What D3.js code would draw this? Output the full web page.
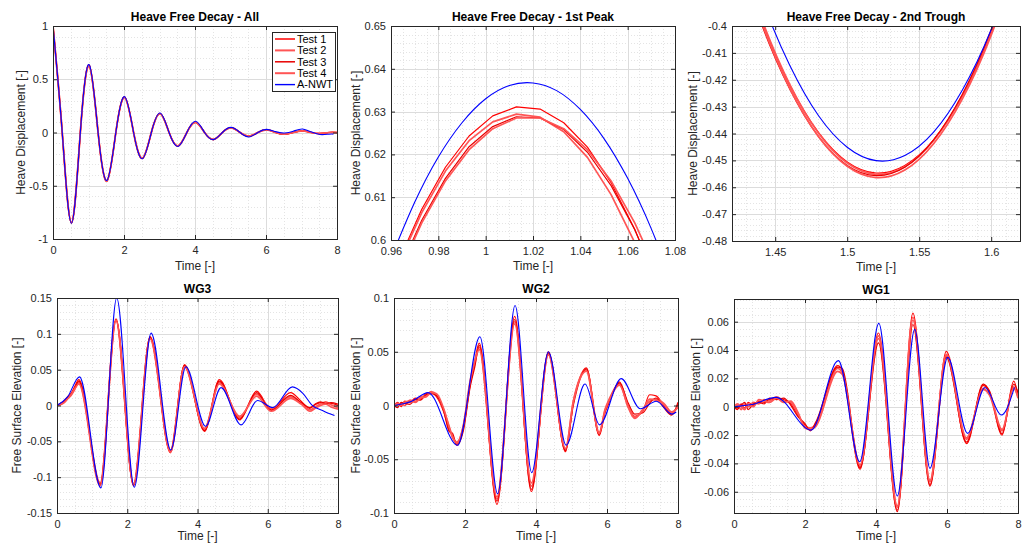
<!DOCTYPE html>
<html>
<head>
<meta charset="utf-8">
<script src="https://cdn.jsdelivr.net/npm/d3@7"></script>
<style>
  body { margin: 0; background: #fff; }
  svg { font-family: "Liberation Sans", Arial, Helvetica, sans-serif; }
  .tick text { font-family: "Liberation Sans", Arial, Helvetica, sans-serif; font-size: 11px; fill: #262626; }
  .tick line { stroke: #262626; }
</style>
</head>
<body>
<svg id="chart" width="1030" height="544"></svg>
<script>
// ---- series names ----
const testNames = ['Test 1', 'Test 2', 'Test 3', 'Test 4'];
const nwtName = 'A-NWT';

// ---- heave decay, full record ----
const heaveTimeExp = [0, 0.26, 0.52, 0.77, 1.02, 1.27, 1.52, 1.77, 2.02, 2.27, 2.52, 2.77, 3.02, 3.27, 3.52, 3.77, 4.02, 4.27, 4.52, 4.77, 5.02, 5.27, 5.52, 5.77, 6.02, 6.27, 6.52, 6.77, 7.02, 7.27, 7.52, 7.77, 8.0];
const heaveTimeNWT = [0, 0.26, 0.52, 0.77, 1.02, 1.27, 1.52, 1.77, 2.02, 2.27, 2.52, 2.77, 3.02, 3.27, 3.52, 3.77, 4.02, 4.27, 4.52, 4.77, 5.02, 5.27, 5.52, 5.77, 6.02, 6.27, 6.52, 6.77, 7.02, 7.27, 7.52, 7.77, 7.9];
const heaveTest1 = [1.0, 0, -0.848, 0, 0.631, 0, -0.455, 0, 0.332, 0, -0.243, 0, 0.178, 0, -0.128, 0, 0.096, 0, -0.066, 0, 0.044, 0, -0.035, 0, 0.027, 0, -0.017, 0, 0.016, 0, -0.010, 0, 0.0];
const heaveTest2 = [1.0, 0, -0.846, 0, 0.629, 0, -0.454, 0, 0.330, 0, -0.241, 0, 0.176, 0, -0.126, 0, 0.094, 0, -0.064, 0, 0.043, 0, -0.034, 0, 0.025, 0, -0.015, 0, 0.014, 0, -0.008, 0, 0.001];
const heaveTest3 = [1.0, 0, -0.849, 0, 0.629, 0, -0.456, 0, 0.331, 0, -0.244, 0, 0.177, 0, -0.129, 0, 0.095, 0, -0.067, 0, 0.045, 0, -0.036, 0, 0.026, 0, -0.018, 0, 0.015, 0, -0.011, 0, -0.001];
const heaveTest4 = [1.0, 0, -0.847, 0, 0.629, 0, -0.455, 0, 0.329, 0, -0.242, 0, 0.176, 0, -0.127, 0, 0.094, 0, -0.065, 0, 0.044, 0, -0.034, 0, 0.026, 0, -0.016, 0, 0.015, 0, -0.009, 0, 0.0];
const heaveNWT = [1.0, 0, -0.852, 0, 0.637, 0, -0.450, 0, 0.336, 0, -0.246, 0, 0.183, 0, -0.131, 0, 0.105, 0, -0.067, 0, 0.048, 0, -0.042, 0, 0.029, 0.008, -0.004, 0.012, 0.033, 0.006, -0.019, -0.016, -0.015];

// ---- 1st peak close-up ----
const peakTimeExp = [0.963, 0.973, 0.983, 0.993, 1.003, 1.013, 1.023, 1.033, 1.043, 1.053, 1.063, 1.073];
const peakTest1 = [0.5947, 0.6072, 0.6170, 0.6243, 0.6290, 0.6311, 0.6306, 0.6274, 0.6217, 0.6134, 0.6025, 0.5890];
const peakTest2 = [0.5942, 0.6064, 0.6161, 0.6232, 0.6276, 0.6294, 0.6287, 0.6253, 0.6193, 0.6106, 0.5994, 0.5855];
const peakTest3 = [0.5923, 0.6046, 0.6144, 0.6218, 0.6265, 0.6288, 0.6285, 0.6258, 0.6205, 0.6127, 0.6024, 0.5896];
const peakTest4 = [0.5918, 0.6040, 0.6138, 0.6211, 0.6260, 0.6285, 0.6285, 0.6260, 0.6211, 0.6138, 0.6040, 0.5918];
const peakTimeNWT = [0.96, 0.97, 0.98, 0.99, 1.00, 1.01, 1.02, 1.03, 1.04, 1.05, 1.06, 1.07, 1.08];
const peakNWT = [0.5958, 0.6088, 0.6194, 0.6274, 0.6330, 0.6361, 0.6367, 0.6349, 0.6305, 0.6237, 0.6144, 0.6026, 0.5884];

// ---- 2nd trough close-up ----
const troughTime = [1.42, 1.44, 1.46, 1.48, 1.50, 1.52, 1.54, 1.56, 1.58, 1.60, 1.62];
const troughTest1 = [-0.3658, -0.3972, -0.4219, -0.4396, -0.4506, -0.4547, -0.4519, -0.4424, -0.4260, -0.4027, -0.3726];
const troughTest2 = [-0.3643, -0.3965, -0.4216, -0.4398, -0.4510, -0.4552, -0.4524, -0.4426, -0.4258, -0.4020, -0.3713];
const troughTest3 = [-0.3669, -0.3986, -0.4233, -0.4411, -0.4519, -0.4557, -0.4526, -0.4424, -0.4254, -0.4014, -0.3704];
const troughTest4 = [-0.3659, -0.3979, -0.4230, -0.4411, -0.4522, -0.4564, -0.4536, -0.4438, -0.4271, -0.4034, -0.3728];
const troughNWT = [-0.3560, -0.3889, -0.4145, -0.4333, -0.4451, -0.4501, -0.4482, -0.4395, -0.4238, -0.4013, -0.3719];

// ---- WG3 ----
const wg3TimeExp = [0, 0.1, 0.2, 0.3, 0.4, 0.5, 0.62, 1.23, 1.68, 2.18, 2.65, 3.23, 3.63, 4.2, 4.62, 5.2, 5.68, 6.1, 6.65, 6.95, 7.2, 7.35, 7.5, 7.65, 7.8, 8.0];
const wg3Test1 = [0, 0.003, 0.006, 0.012, 0.017, 0.026, 0.036, -0.111, 0.121, -0.112, 0.096, -0.066, 0.057, -0.036, 0.036, -0.020, 0.020, -0.006, 0.018, 0.006, -0.004, 0.001, 0.004, 0.002, 0.003, 0.0];
const wg3Test2 = [0, 0.001, 0.004, 0.010, 0.014, 0.022, 0.032, -0.108, 0.118, -0.109, 0.094, -0.063, 0.055, -0.033, 0.032, -0.017, 0.016, -0.004, 0.012, 0.003, -0.006, -0.002, 0.002, 0.005, 0.001, -0.003];
const wg3Test3 = [0, 0.002, 0.005, 0.011, 0.016, 0.024, 0.034, -0.110, 0.120, -0.111, 0.095, -0.064, 0.056, -0.035, 0.034, -0.019, 0.018, -0.007, 0.014, 0.004, -0.003, 0.002, 0.005, 0.003, 0.004, 0.002];
const wg3Test4 = [0, 0.002, 0.004, 0.009, 0.015, 0.023, 0.030, -0.112, 0.119, -0.110, 0.093, -0.065, 0.054, -0.032, 0.030, -0.015, 0.013, -0.008, 0.010, 0.002, -0.008, -0.004, 0.000, 0.002, -0.002, -0.005];
const wg3TimeNWT = [0, 0.3, 0.64, 1.25, 1.70, 2.20, 2.68, 3.24, 3.67, 4.23, 4.67, 5.24, 5.71, 6.14, 6.70, 7.0, 7.25, 7.6, 7.9];
const wg3NWT = [0, 0.012, 0.040, -0.115, 0.150, -0.114, 0.101, -0.062, 0.054, -0.029, 0.025, -0.027, 0.007, -0.003, 0.026, 0.017, 0.001, -0.008, -0.014];

// ---- WG2 ----
const wg2TimeExp = [0, 0.1, 0.2, 0.3, 0.45, 0.6, 0.75, 0.9, 1.05, 1.2, 1.4, 1.55, 1.65, 1.77, 1.95, 2.15, 2.27, 2.4, 2.9, 3.4, 3.87, 4.35, 4.83, 5.05, 5.42, 5.78, 5.95, 6.05, 6.35, 6.6, 6.78, 7.0, 7.2, 7.38, 7.6, 7.82, 8.0];
const wg2Test1 = [0, 0.003, -0.001, 0.004, 0.003, 0.007, 0.006, 0.011, 0.012, 0.008, -0.006, -0.022, -0.028, -0.036, -0.022, 0.020, 0.040, 0.058, -0.092, 0.083, -0.080, 0.050, -0.043, 0.002, 0.035, -0.028, -0.006, 0.002, 0.022, 0.000, -0.010, -0.006, 0.010, 0.009, 0.000, -0.008, 0.001];
const wg2Test2 = [0, 0.001, 0.002, 0.000, 0.005, 0.004, 0.008, 0.009, 0.013, 0.010, -0.004, -0.020, -0.030, -0.034, -0.020, 0.022, 0.038, 0.054, -0.087, 0.078, -0.075, 0.048, -0.041, 0.004, 0.033, -0.025, -0.003, 0.005, 0.020, -0.002, -0.012, -0.004, 0.004, 0.006, 0.002, -0.006, -0.002];
const wg2Test3 = [0, -0.002, 0.003, 0.002, 0.001, 0.006, 0.005, 0.010, 0.011, 0.009, -0.005, -0.024, -0.026, -0.037, -0.024, 0.018, 0.035, 0.056, -0.089, 0.080, -0.078, 0.049, -0.042, 0.000, 0.034, -0.027, -0.005, 0.003, 0.021, 0.002, -0.008, -0.007, 0.002, 0.007, -0.002, -0.009, 0.003];
const wg2Test4 = [0, 0.002, 0.000, 0.003, 0.004, 0.003, 0.007, 0.008, 0.012, 0.011, -0.003, -0.019, -0.029, -0.035, -0.019, 0.024, 0.041, 0.052, -0.085, 0.076, -0.072, 0.047, -0.040, 0.003, 0.032, -0.026, -0.004, 0.004, 0.019, -0.001, -0.011, -0.005, 0.006, 0.005, 0.001, -0.007, -0.001];
const wg2TimeNWT = [0, 0.5, 0.96, 1.79, 2.42, 2.92, 3.41, 3.88, 4.35, 4.85, 5.38, 5.79, 6.40, 6.94, 7.39, 7.83, 7.95];
const wg2NWT = [0, 0.004, 0.012, -0.037, 0.064, -0.082, 0.093, -0.0625, 0.050, -0.037, 0.020, -0.018, 0.025, -0.003, 0.004, -0.008, -0.006];

// ---- WG1 ----
const wg1TimeExp = [0, 0.1, 0.2, 0.3, 0.4, 0.55, 0.7, 0.85, 1.0, 1.2, 1.4, 1.6, 1.8, 2.0, 2.15, 2.3, 2.92, 3.05, 3.55, 4.07, 4.60, 5.04, 5.52, 5.98, 6.55, 7.02, 7.2, 7.55, 7.88, 8.0];
const wg1Test1 = [0, -0.002, 0.002, -0.001, 0.003, 0.001, 0.004, 0.003, 0.005, 0.006, 0.005, 0.002, -0.006, -0.013, -0.016, -0.012, 0.029, 0.026, -0.044, 0.052, -0.073, 0.066, -0.055, 0.039, -0.026, 0.015, 0.010, -0.020, 0.018, 0.008];
const wg1Test2 = [0, 0.001, -0.002, 0.002, 0.000, 0.003, 0.002, 0.005, 0.004, 0.007, 0.004, 0.003, -0.005, -0.014, -0.015, -0.013, 0.027, 0.024, -0.042, 0.048, -0.070, 0.061, -0.052, 0.036, -0.023, 0.013, 0.008, -0.017, 0.014, 0.006];
const wg1Test3 = [0, -0.001, 0.001, 0.003, -0.002, 0.002, 0.003, 0.002, 0.006, 0.005, 0.006, 0.001, -0.007, -0.012, -0.017, -0.011, 0.028, 0.027, -0.043, 0.045, -0.074, 0.058, -0.056, 0.035, -0.025, 0.016, 0.011, -0.019, 0.016, 0.010];
const wg1Test4 = [0, 0.002, 0.000, -0.002, 0.002, 0.000, 0.005, 0.004, 0.003, 0.006, 0.003, 0.004, -0.004, -0.015, -0.016, -0.014, 0.025, 0.023, -0.041, 0.050, -0.071, 0.063, -0.053, 0.037, -0.022, 0.012, 0.009, -0.016, 0.013, 0.007];
const wg1TimeNWT = [0, 0.5, 1.18, 2.17, 2.94, 3.54, 4.08, 4.60, 5.09, 5.52, 6.02, 6.58, 7.07, 7.53, 7.90];
const wg1NWT = [0, 0.0015, 0.0066, -0.0165, 0.0325, -0.0388, 0.0588, -0.063, 0.0546, -0.0435, 0.0348, -0.0188, 0.0136, -0.0059, 0.0136];

// ---- tick labels ----
const timeTicks = [0, 2, 4, 6, 8];
const heaveAllTicks = [-1, -0.5, 0, 0.5, 1];
const peakXTicks = [0.96, 0.98, 1, 1.02, 1.04, 1.06, 1.08];
const peakYTicks = [0.6, 0.61, 0.62, 0.63, 0.64, 0.65];
const troughXTicks = [1.45, 1.5, 1.55, 1.6];
const troughYTicks = [-0.48, -0.47, -0.46, -0.45, -0.44, -0.43, -0.42, -0.41, -0.4];
const wg3Ticks = [-0.15, -0.1, -0.05, 0, 0.05, 0.1, 0.15];
const wg2Ticks = [-0.1, -0.05, 0, 0.05, 0.1];
const wg1Ticks = [-0.06, -0.04, -0.02, 0, 0.02, 0.04, 0.06];

// ---- styles ----
const testColors = ['#ff0000', '#ff5555', '#e80000', '#ff5555'];
const testWidths = [1.2, 1.7, 1.2, 1.7];
const nwtColor = '#0000ff';
const axisColor = '#262626';

function makeSeries(tExp, tests, tNwt, nwt, expCurve, nwtCurve) {
  const out = tests.map((v, i) => ({
    t: tExp, v: v, color: testColors[i], width: testWidths[i], curve: expCurve
  }));
  out.push({ t: tNwt, v: nwt, color: nwtColor, width: 1.1, curve: nwtCurve });
  return out;
}

const heaveLabel = 'Heave Displacement [-]';
const fseLabel = 'Free Surface Elevation [-]';

const panels = [
  { title: 'Heave Free Decay - All', box: [53, 26, 337, 239], xd: [0, 8], yd: [-1, 1],
    xt: timeTicks, yt: heaveAllTicks, xm: 0.5, ym: 0.1, ylab: heaveLabel, ylx: 21, xlab: 270, legend: true,
    series: makeSeries(heaveTimeExp, [heaveTest1, heaveTest2, heaveTest3, heaveTest4], heaveTimeNWT, heaveNWT, d3.curveNatural, d3.curveNatural) },
  { title: 'Heave Free Decay - 1st Peak', box: [391, 26, 675, 240], xd: [0.96, 1.08], yd: [0.6, 0.65],
    xt: peakXTicks, yt: peakYTicks, xm: 0.005, ym: 0.002, ylab: heaveLabel, ylx: 356, xlab: 270,
    series: makeSeries(peakTimeExp, [peakTest1, peakTest2, peakTest3, peakTest4], peakTimeNWT, peakNWT, d3.curveLinear, d3.curveNatural) },
  { title: 'Heave Free Decay - 2nd Trough', box: [732, 26, 1020, 241], xd: [1.42, 1.62], yd: [-0.48, -0.4],
    xt: troughXTicks, yt: troughYTicks, xm: 0.01, ym: 0.002, ylab: heaveLabel, ylx: 693, xlab: 271,
    series: makeSeries(troughTime, [troughTest1, troughTest2, troughTest3, troughTest4], troughTime, troughNWT, d3.curveNatural, d3.curveNatural) },
  { title: 'WG3', box: [57, 298, 338, 513], xd: [0, 8], yd: [-0.15, 0.15],
    xt: timeTicks, yt: wg3Ticks, xm: 0.5, ym: 0.01, ylab: fseLabel, ylx: 17, xlab: 540,
    series: makeSeries(wg3TimeExp, [wg3Test1, wg3Test2, wg3Test3, wg3Test4], wg3TimeNWT, wg3NWT, d3.curveMonotoneX, d3.curveMonotoneX) },
  { title: 'WG2', box: [394, 298, 678, 513], xd: [0, 8], yd: [-0.1, 0.1],
    xt: timeTicks, yt: wg2Ticks, xm: 0.5, ym: 0.01, ylab: fseLabel, ylx: 356, xlab: 540,
    series: makeSeries(wg2TimeExp, [wg2Test1, wg2Test2, wg2Test3, wg2Test4], wg2TimeNWT, wg2NWT, d3.curveMonotoneX, d3.curveMonotoneX) },
  { title: 'WG1', box: [734, 299, 1018, 513], xd: [0, 8], yd: [-0.075, 0.076],
    xt: timeTicks, yt: wg1Ticks, xm: 0.5, ym: 0.005, ylab: fseLabel, ylx: 696, xlab: 540,
    series: makeSeries(wg1TimeExp, [wg1Test1, wg1Test2, wg1Test3, wg1Test4], wg1TimeNWT, wg1NWT, d3.curveMonotoneX, d3.curveMonotoneX) }
];

const svg = d3.select('#chart');
const fmt = d => String(+d.toFixed(6));

function steps(dom, step) {
  const lo = Math.ceil(dom[0] / step - 1e-6), hi = Math.floor(dom[1] / step + 1e-6);
  return d3.range(lo, hi + 1).map(k => +(k * step).toFixed(6));
}

function drawPanel(p, idx) {
  const [x0, y0, x1, y1] = p.box;
  const w = x1 - x0, h = y1 - y0;
  const x = d3.scaleLinear().domain(p.xd).range([0, w]);
  const y = d3.scaleLinear().domain(p.yd).range([h, 0]);
  const g = svg.append('g').attr('transform', `translate(${x0},${y0})`);

  svg.append('defs').append('clipPath').attr('id', 'clip' + idx)
    .append('rect').attr('width', w).attr('height', h);

  // minor grid (dotted)
  const minor = g.append('g').attr('stroke', '#c8c8c8').attr('stroke-width', 0.7)
    .attr('stroke-dasharray', '1,2').attr('opacity', 0.7);
  minor.selectAll('.mx').data(steps(p.xd, p.xm).filter(d => !p.xt.includes(d))).join('line')
    .attr('x1', d => Math.round(x(d)) + 0.5).attr('x2', d => Math.round(x(d)) + 0.5)
    .attr('y1', 0).attr('y2', h);
  minor.selectAll('.my').data(steps(p.yd, p.ym).filter(d => !p.yt.includes(d))).join('line')
    .attr('y1', d => Math.round(y(d)) + 0.5).attr('y2', d => Math.round(y(d)) + 0.5)
    .attr('x1', 0).attr('x2', w);

  // major grid
  const major = g.append('g').attr('stroke', '#dcdcdc').attr('stroke-width', 1);
  major.selectAll('.gx').data(p.xt).join('line')
    .attr('x1', d => Math.round(x(d)) + 0.5).attr('x2', d => Math.round(x(d)) + 0.5)
    .attr('y1', 0).attr('y2', h);
  major.selectAll('.gy').data(p.yt).join('line')
    .attr('y1', d => Math.round(y(d)) + 0.5).attr('y2', d => Math.round(y(d)) + 0.5)
    .attr('x1', 0).attr('x2', w);

  // data lines
  const plot = g.append('g').attr('clip-path', `url(#clip${idx})`);
  p.series.forEach(s => {
    const pts = s.t.map((t, i) => [t, s.v[i]]);
    plot.append('path')
      .datum(pts)
      .attr('fill', 'none')
      .attr('stroke', s.color)
      .attr('stroke-width', s.width)
      .attr('stroke-linejoin', 'round')
      .attr('d', d3.line().x(d => x(d[0])).y(d => y(d[1])).curve(s.curve));
  });

  // axes with inward ticks on all four sides
  const noDomain = a => a.select('.domain').remove();
  g.append('g').attr('transform', `translate(0,${h})`)
    .call(d3.axisBottom(x).tickValues(p.xt).tickSizeInner(-4).tickSizeOuter(0).tickPadding(7).tickFormat(fmt))
    .call(noDomain);
  g.append('g')
    .call(d3.axisLeft(y).tickValues(p.yt).tickSizeInner(-4).tickSizeOuter(0).tickPadding(5).tickFormat(fmt))
    .call(noDomain);
  g.append('g')
    .call(d3.axisTop(x).tickValues(p.xt).tickSizeInner(-4).tickSizeOuter(0).tickFormat(''))
    .call(noDomain);
  g.append('g').attr('transform', `translate(${w},0)`)
    .call(d3.axisRight(y).tickValues(p.yt).tickSizeInner(-4).tickSizeOuter(0).tickFormat(''))
    .call(noDomain);

  g.append('rect').attr('x', 0.5).attr('y', 0.5).attr('width', w).attr('height', h)
    .attr('fill', 'none').attr('stroke', axisColor).attr('stroke-width', 1);

  // title and labels
  svg.append('text')
    .attr('x', x0 + w / 2).attr('y', y0 - 5)
    .attr('text-anchor', 'middle').attr('font-size', '12px').attr('font-weight', 'bold')
    .attr('fill', '#000').text(p.title);
  svg.append('text')
    .attr('x', x0 + w / 2).attr('y', p.xlab)
    .attr('text-anchor', 'middle').attr('font-size', '12px').attr('fill', axisColor)
    .text('Time [-]');
  svg.append('text')
    .attr('transform', `translate(${p.ylx},${y0 + h / 2}) rotate(-90)`)
    .attr('dy', '0.35em')
    .attr('text-anchor', 'middle').attr('font-size', '12px').attr('fill', axisColor)
    .text(p.ylab);

  if (p.legend) {
    const names = testNames.concat([nwtName]);
    const lg = svg.append('g').attr('transform', `translate(${x1 - 65},${y0 + 6})`);
    lg.append('rect').attr('x', 0.5).attr('y', 0.5).attr('width', 63).attr('height', 59)
      .attr('fill', '#fff').attr('stroke', axisColor).attr('stroke-width', 1);
    names.forEach((n, i) => {
      const s = p.series[i];
      const cy = 7 + i * 11.4;
      lg.append('line').attr('x1', 3).attr('x2', 23).attr('y1', cy).attr('y2', cy)
        .attr('stroke', s.color).attr('stroke-width', s.width + 0.3);
      lg.append('text').attr('x', 25).attr('y', cy).attr('dy', '0.35em')
        .attr('font-size', '11px').attr('fill', '#000').text(n);
    });
  }
}

panels.forEach(drawPanel);
</script>
</body>
</html>
